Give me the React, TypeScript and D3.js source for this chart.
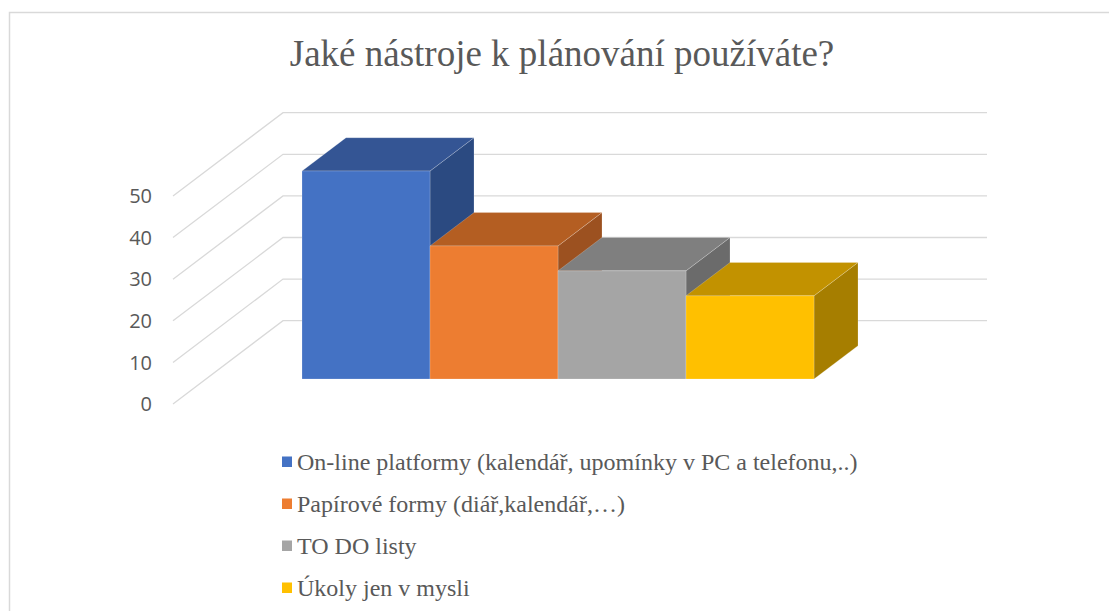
import React from "react";
import * as d3 from "d3";

// Survey answers: one bar per planning tool
const seriesNames = [
  "On-line platformy (kalendář, upomínky v PC a telefonu,..)",
  "Papírové formy (diář,kalendář,…)",
  "TO DO listy",
  "Úkoly jen v mysli",
];
const seriesValues = [50, 32, 26, 20];
const yTicks = [0, 10, 20, 30, 40, 50];
const titleText = "Jaké nástroje k plánování používáte?";

// Face colours: front, top, right side
const frontColors = ["#4472C4", "#ED7D31", "#A5A5A5", "#FFC000"];
const topColors = ["#345594", "#B45E22", "#7F7F7F", "#C29200"];
const sideColors = ["#2B4A81", "#9C5120", "#6B6B6B", "#A67E00"];

const W = 1109;
const H = 611;

// Oblique 3D frame: front-left floor corner, full depth vector, floor width
const originX = 173;
const originY = 404;
const depthDX = 110;
const depthDY = -83.3;
const floorWidth = 704;
const barDepthStart = 0.3;
const barDepthEnd = 0.7;

export default function App() {
  const y = d3.scaleLinear().domain([0, 50]).range([0, 208]);
  const x = d3
    .scaleBand<string>()
    .domain(seriesNames)
    .range([0, floorWidth])
    .paddingInner(0)
    .paddingOuter(0.75);

  // project (floor x, depth fraction, value) to screen
  const proj = (fx: number, d: number, v: number): [number, number] => [
    originX + fx + d * depthDX,
    originY + d * depthDY - y(v),
  ];
  const poly = (pts: [number, number][]) =>
    pts.map((p) => p.map((n) => n.toFixed(2)).join(",")).join(" ");

  const gridColor = "#D9D9D9";
  const textColor = "#595959";
  const serif = "'Liberation Serif', 'Times New Roman', serif";

  return (
    <svg
      width={W}
      height={H}
      style={{ position: "absolute", left: 0, top: 0, background: "#fff" }}
    >
      <rect
        x={9.5}
        y={12.5}
        width={W + 20}
        height={H + 20}
        fill="#fff"
        stroke={gridColor}
        strokeWidth={1.5}
      />
      <text
        x={562}
        y={66}
        textAnchor="middle"
        fontFamily={serif}
        fontSize={37}
        fill={textColor}
      >
        {titleText}
      </text>

      {/* side wall and back wall gridlines */}
      {yTicks.map((t) => {
        const a = proj(0, 0, t);
        const b = proj(0, 1, t);
        const c = proj(floorWidth, 1, t);
        return (
          <g key={t}>
            <polyline
              points={poly([a, b, c])}
              fill="none"
              stroke={gridColor}
              strokeWidth={1.3}
            />
            <text
              x={152}
              y={a[1]}
              dy="0.36em"
              textAnchor="end"
              fontFamily="'Open Sans', sans-serif"
              fontSize={20}
              fill={textColor}
            >
              {t}
            </text>
          </g>
        );
      })}

      {/* bars, left to right so later bars cover earlier side faces */}
      {seriesNames.map((name, i) => {
        const x0 = x(name)!;
        const x1 = x0 + x.bandwidth();
        const v = seriesValues[i];
        const d0 = barDepthStart;
        const d1 = barDepthEnd;
        const side = [proj(x1, d0, 0), proj(x1, d1, 0), proj(x1, d1, v), proj(x1, d0, v)];
        const top = [proj(x0, d0, v), proj(x1, d0, v), proj(x1, d1, v), proj(x0, d1, v)];
        const front = [proj(x0, d0, 0), proj(x1, d0, 0), proj(x1, d0, v), proj(x0, d0, v)];
        const edge = { stroke: "rgba(255,255,255,0.25)", strokeWidth: 0.8 };
        return (
          <g key={name}>
            <polygon points={poly(side)} fill={sideColors[i]} {...edge} />
            <polygon points={poly(top)} fill={topColors[i]} {...edge} />
            <polygon points={poly(front)} fill={frontColors[i]} {...edge} />
          </g>
        );
      })}

      {/* legend */}
      {seriesNames.map((name, i) => {
        const base = 470 + i * 42;
        return (
          <g key={name}>
            <rect x={282} y={base - 13.5} width={10} height={10.5} fill={frontColors[i]} />
            <text x={297} y={base} fontFamily={serif} fontSize={24} fill={textColor}>
              {name}
            </text>
          </g>
        );
      })}
    </svg>
  );
}
